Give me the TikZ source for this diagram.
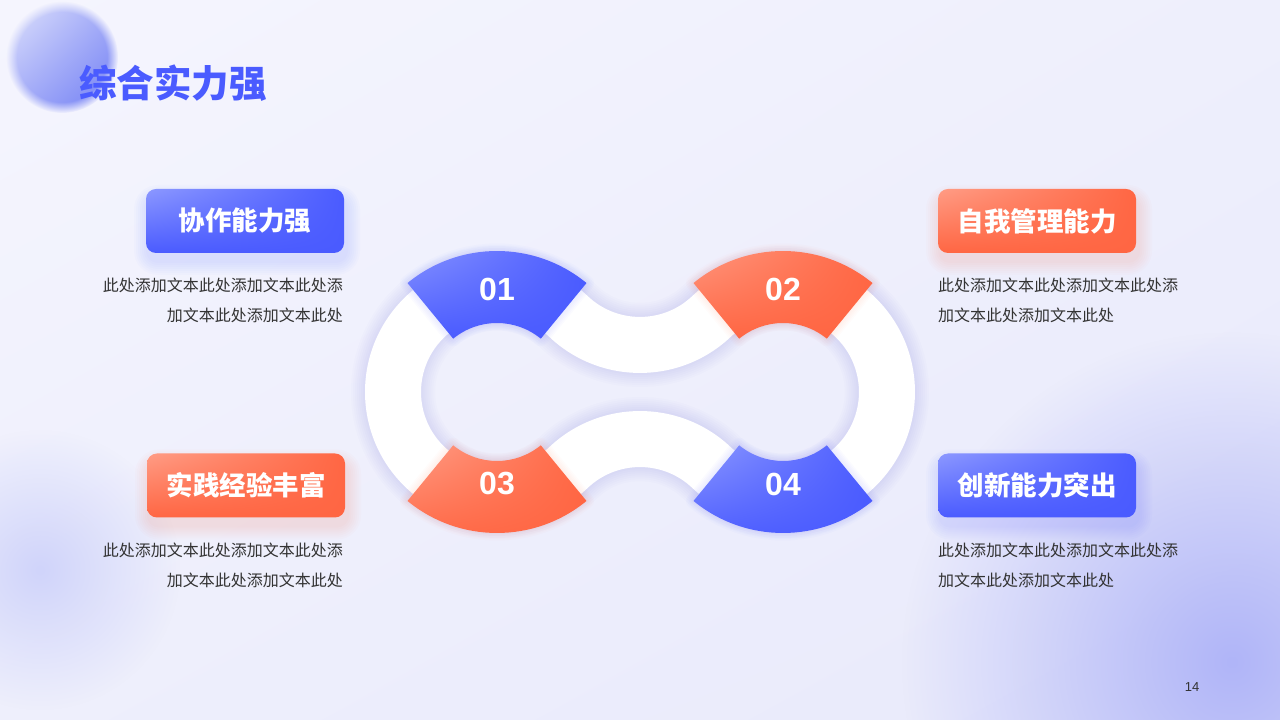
\documentclass[tikz,border=0pt]{standalone}
\usepackage{fontspec}
\setmainfont{Liberation Sans}
\newfontfamily\cjk{Noto Sans CJK SC}
\usetikzlibrary{fadings,shadings}

\definecolor{bgA}{HTML}{F5F5FE}
\definecolor{bgB}{HTML}{EEEFFC}
\definecolor{bgC}{HTML}{E8E9FB}
\definecolor{blueD}{HTML}{4A5BFF}
\definecolor{blueL}{HTML}{8C98FF}
\definecolor{orgD}{HTML}{FF6643}
\definecolor{orgL}{HTML}{FF9C85}
\definecolor{glowB}{HTML}{5A6AF0}
\definecolor{blobR}{HTML}{B0B5F8}
\definecolor{blobL}{HTML}{D0D4FA}
\definecolor{diskA}{HTML}{E2E5FC}
\definecolor{diskM}{HTML}{A3ABF8}
\definecolor{diskB}{HTML}{6E7CF4}
\definecolor{txt}{HTML}{333333}

\tikzfading[name=glow, inner color=transparent!0, outer color=transparent!100]

\begin{document}
\begin{tikzpicture}[x=1pt,y=1pt,
    numtxt/.style={text=white, font=\bfseries\fontsize{32}{32}\selectfont},
    box/.style={rounded corners=10pt, minimum width=198pt, minimum height=64pt, inner sep=0pt,
        text=white, font=\cjk\bfseries\fontsize{26.5}{26.5}\selectfont},
    desc/.style={text=txt, inner sep=0pt, font=\cjk\fontsize{16}{30}\selectfont}]

    \useasboundingbox (0,0) rectangle (1280,720);
    \clip (0,0) rectangle (1280,720);

    % 背景
    \shade[upper left=bgA, upper right=bgB, lower left=bgB, lower right=bgC] (0,0) rectangle (1280,720);
    \fill[blobR, path fading=glow] (1232,58) circle (330);
    \fill[blobL, path fading=glow] (40,150) circle (140);
    \shade[upper left=diskA, upper right=diskM, lower left=diskM, lower right=diskB,
        path fading=circle with fuzzy edge 20 percent] (62,663) circle (56);

    % 四个圆心
    \coordinate (L) at (497,328);
    \coordinate (R) at (783,328);
    \coordinate (T) at (640,479);
    \coordinate (B) at (640,177);
    \def\th{46.57}

    % 白色环带
    \def\bandout{([shift={(\th:132)}]L) arc[start angle=\th, end angle=360-\th, radius=132]
        arc[start angle=180-\th, end angle=\th, radius=76]
        arc[start angle=\th-180, end angle=180-\th, radius=132]
        arc[start angle=-\th, end angle=\th-180, radius=76] -- cycle}
    \def\bandin{([shift={(\th:76)}]L) arc[start angle=\th, end angle=360-\th, radius=76]
        arc[start angle=180-\th, end angle=\th, radius=132]
        arc[start angle=\th-180, end angle=180-\th, radius=76]
        arc[start angle=-\th, end angle=\th-180, radius=132] -- cycle}
    \foreach \w in {4,8,...,28}
        \draw[glowB, line width=\w, opacity=0.018] \bandout \bandin;
    \fill[white, even odd rule] \bandout \bandin;

    % 扇形
    \foreach \c/\a/\col in {L/90/blue, R/90/org, L/270/org, R/270/blue} {
        \def\sect{([shift={(\a-39.4:141)}]\c) arc[start angle=\a-39.4, end angle=\a+39.4, radius=141]
            -- ([shift={(\a+39.4:69)}]\c) arc[start angle=\a+39.4, end angle=\a-39.4, radius=69] -- cycle}
        \foreach \w in {3,6,...,15}
            \draw[\col D, line width=\w, opacity=0.018, line join=round] \sect;
        \shade[upper left=\col L, upper right=\col D, lower left=\col D, lower right=\col D] \sect;
    }

    % 编号
    \foreach \i/\x/\y in {1/497/431, 2/783/431, 3/497/236, 4/783/236}
        \node[numtxt] (n\i) at (\x,\y) {0\i};

    % 标签阴影
    \foreach \x/\y/\col in {245/499/blue, 1037/499/org, 246/234.5/org, 1037/234.5/blue}
        \foreach \i in {1,...,7}
            \fill[\col D, opacity=0.02, rounded corners=10+\i*2]
                (\x-97-\i*2, \y-32-\i*2-8) rectangle (\x+101+\i*2, \y+30+\i*2-8);

    % 标签
    \node[box, upper left=blueL, upper right=blueD, lower left=blueD, lower right=blueD] (b1) at (245,499) {协作能力强};
    \node[box, upper left=orgL, upper right=orgD, lower left=orgD, lower right=orgD] (b2) at (1037,499) {自我管理能力};
    \node[box, upper left=orgL, upper right=orgD, lower left=orgD, lower right=orgD] (b3) at (246,234.5) {实践经验丰富};
    \node[box, upper left=blueL, upper right=blueD, lower left=blueD, lower right=blueD] (b4) at (1037,234.5) {创新能力突出};

    % 说明文字
    \node[desc, anchor=north east, align=right] (d1) at (343,442) {此处添加文本此处添加文本此处添\\加文本此处添加文本此处};
    \node[desc, anchor=north west, align=left] (d2) at (938,442) {此处添加文本此处添加文本此处添\\加文本此处添加文本此处};
    \node[desc, anchor=north east, align=right] (d3) at (343,177) {此处添加文本此处添加文本此处添\\加文本此处添加文本此处};
    \node[desc, anchor=north west, align=left] (d4) at (938,177) {此处添加文本此处添加文本此处添\\加文本此处添加文本此处};

    % 标题与页码
    \node[anchor=west, inner sep=0pt, text=blueD, font=\cjk\bfseries\fontsize{37.5}{37.5}\selectfont] (title) at (79,637) {综合实力强};
    \node[text=txt, font=\fontsize{13}{13}\selectfont] (pg) at (1192,33) {14};
\end{tikzpicture}
\end{document}
